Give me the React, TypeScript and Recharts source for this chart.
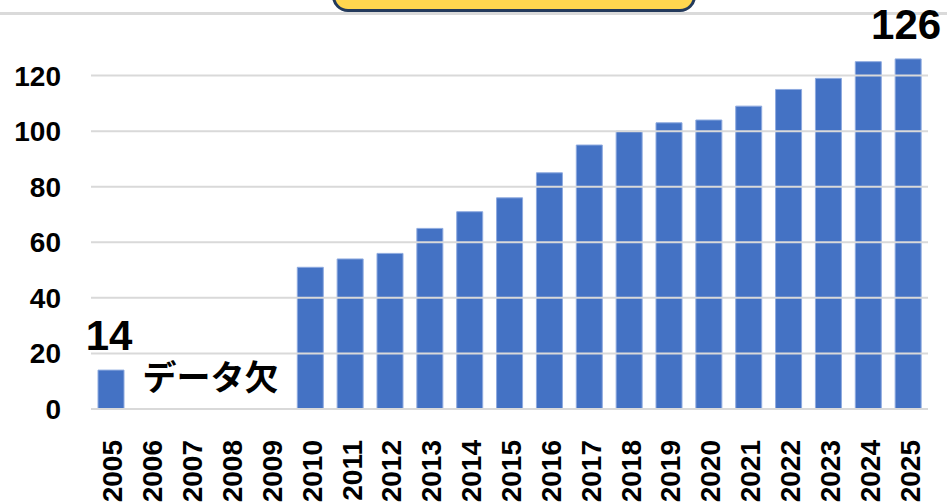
import React from 'react';
import { BarChart, Bar, XAxis, YAxis, LabelList, ReferenceArea, ReferenceLine } from 'recharts';

const years = ['2005', '2006', '2007', '2008', '2009', '2010', '2011', '2012', '2013', '2014', '2015', '2016', '2017', '2018', '2019', '2020', '2021', '2022', '2023', '2024', '2025'];
const counts: (number | null)[] = [14, null, null, null, null, 51, 54, 56, 65, 71, 76, 85, 95, 100, 103, 104, 109, 115, 119, 125, 126];
const labeledYears = ['2005', '2025'];
const yTicks = [0, 20, 40, 60, 80, 100, 120];
const yMax = 140;
const gapNote = 'データ欠';
const gapFrom = '2007';
const gapTo = '2008';

const data = years.map((y, i) => ({
  year: y,
  value: counts[i],
  label: labeledYears.includes(y) ? counts[i] : null,
}));

const FONT = '"Liberation Sans", Arial, sans-serif';

const XTick = (props: any) => {
  const { x, y, payload } = props;
  return (
    <g transform={`translate(${x + 2},${y + 23}) rotate(-90)`}>
      <text textAnchor="end" dominantBaseline="central" fontFamily={FONT} fontWeight="bold" fontSize={28} fill="#000">
        {payload.value}
      </text>
    </g>
  );
};

const ValueLabel = (props: any) => {
  const { x, y, width, value } = props;
  if (value === null || value === undefined) return null;
  return (
    <text x={x + width / 2 - 2} y={y - 20} textAnchor="middle" fontFamily={FONT} fontWeight="bold" fontSize={42} fill="#000">
      {value}
    </text>
  );
};

export default function App() {
  return (
    <div style={{ position: 'absolute', left: 0, top: 0, width: 947, height: 503, background: '#fff', overflow: 'hidden' }}>
      <div
        style={{
          position: 'absolute',
          left: 332,
          top: -40,
          width: 358,
          height: 46,
          background: '#ffd64f',
          border: '3px solid #233a5c',
          borderRadius: 16,
        }}
      />
      <div style={{ position: 'absolute', left: 0, top: 12, width: 947, height: 3, background: '#dadada' }} />
      <div style={{ position: 'absolute', left: 0, top: 0 }}>
        <BarChart
          width={947}
          height={503}
          data={data}
          accessibilityLayer={false}
          style={{ outline: 'none' }}
          margin={{ top: 20, right: 19, bottom: 0, left: 0 }}
        >
          <XAxis dataKey="year" axisLine={false} tickLine={false} interval={0} height={94} tick={<XTick />} />
          <YAxis
            domain={[0, yMax]}
            ticks={yTicks}
            axisLine={false}
            tickLine={false}
            tickSize={0}
            tickMargin={30}
            width={91}
            tick={{ fontFamily: FONT, fontWeight: 'bold', fontSize: 28, fill: '#000' }}
          />
          {yTicks.map((t) => (
            <ReferenceLine key={t} y={t} stroke="#d9d9d9" strokeWidth={2} />
          ))}
          <ReferenceArea
            x1={gapFrom}
            x2={gapTo}
            y1={0}
            y2={22.4}
            fill="none"
            stroke="none"
            label={{
              value: gapNote,
              position: 'center',
              fontFamily: '"Noto Sans CJK JP", sans-serif',
              fontWeight: 'bold',
              fontSize: 34,
              fill: '#000',
            }}
          />
          <Bar dataKey="value" fill="#4472c4" stroke="#8eaadf" strokeWidth={1} barSize={26} isAnimationActive={false}>
            <LabelList dataKey="label" content={<ValueLabel />} />
          </Bar>
        </BarChart>
      </div>
    </div>
  );
}
